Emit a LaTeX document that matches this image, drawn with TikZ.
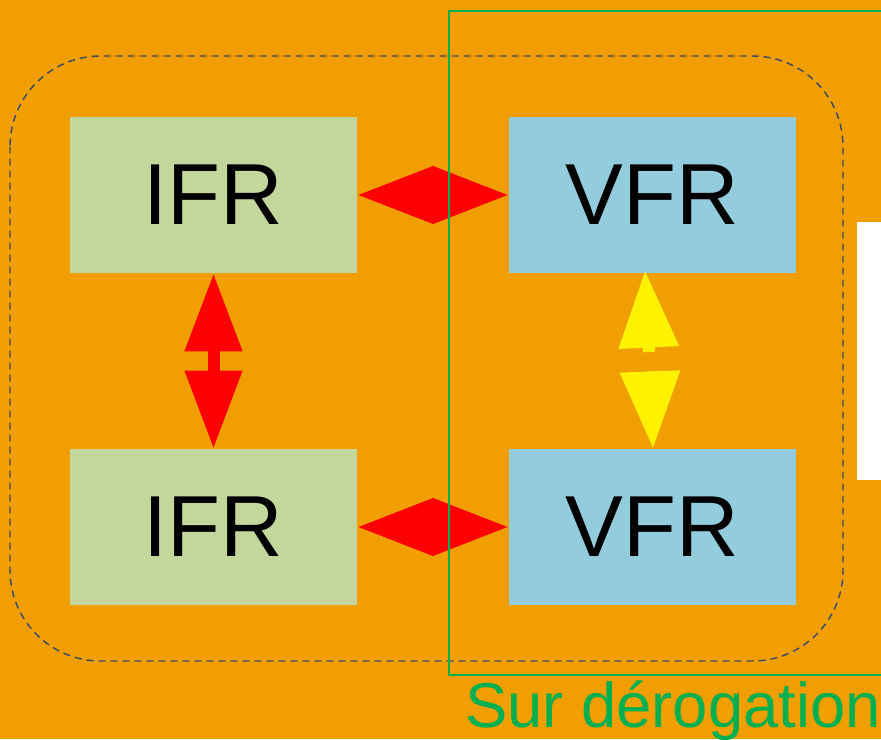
\documentclass[tikz,border=0pt]{standalone}
\usepackage{fontspec}
\setmainfont{Liberation Sans}
\usepackage{tikz}
\usetikzlibrary{calc}
\usetikzlibrary{arrows.meta}
\definecolor{bgorange}{HTML}{F09E00}
\definecolor{ifrgreen}{HTML}{C3D69B}
\definecolor{vfrblue}{HTML}{93CDDD}
\definecolor{sdgreen}{HTML}{00B050}
\definecolor{dashblue}{HTML}{3F4B63}

\begin{document}
\begin{tikzpicture}[x=0.75pt, y=-0.75pt,
  box/.style={minimum width=215.25pt, minimum height=117pt, inner sep=0pt, font=\fontsize{65}{65}\selectfont},
  ifrbox/.style={box, fill=ifrgreen},
  vfrbox/.style={box, fill=vfrblue},
  redarrow/.style={draw=red, line width=9pt, line cap=rect, {Triangle[length=#1, width=41pt]}-{Triangle[length=#1, width=41pt]}},
  redarrow/.default=58.5pt,
  yelarrow/.style={draw=yellow, line width=9pt, -{Triangle[length=58pt, width=43pt]}}]

\useasboundingbox (0,0) rectangle (881,739);
\clip (0,0) rectangle (881,739);
\fill [bgorange] (0,0) rectangle (881,739);

\draw [dashblue, line width=1.1pt, dash pattern=on 5.25pt off 3.75pt, rounded corners=68pt] (10,56) rectangle (843,661);

\fill [white] (857,222) rectangle (895,480);

\node [ifrbox] (ifr1) at (213.5,195) {IFR};
\node [ifrbox] (ifr2) at (213.5,527) {IFR};
\node [vfrbox] (vfr1) at (652.5,195) {VFR};
\node [vfrbox] (vfr2) at (652.5,527) {VFR};

\foreach \a/\b in {ifr1/vfr1,ifr2/vfr2} {\draw [redarrow=57pt] (\a.east) -- (\b.west);}
\draw [redarrow] (ifr1.south) -- (ifr2.north);

% yellow one, broken in the middle
\coordinate (ytop) at ($(vfr1.south)+(-7.5,-3)$);
\coordinate (ybot) at ($(vfr2.north)+(0.5,0)$);
\draw [yelarrow] (649,352) -- (ytop);
\draw [yelarrow] (650,371.5) -- (ybot);

\draw [sdgreen, line width=1.5pt] (449,11) rectangle (895,675);
\node [anchor=base west, inner sep=0pt, text=sdgreen, font=\fontsize{47.5}{48}\selectfont] (surder) at (465,727) {Sur dérogation};

\end{tikzpicture}
\end{document}
